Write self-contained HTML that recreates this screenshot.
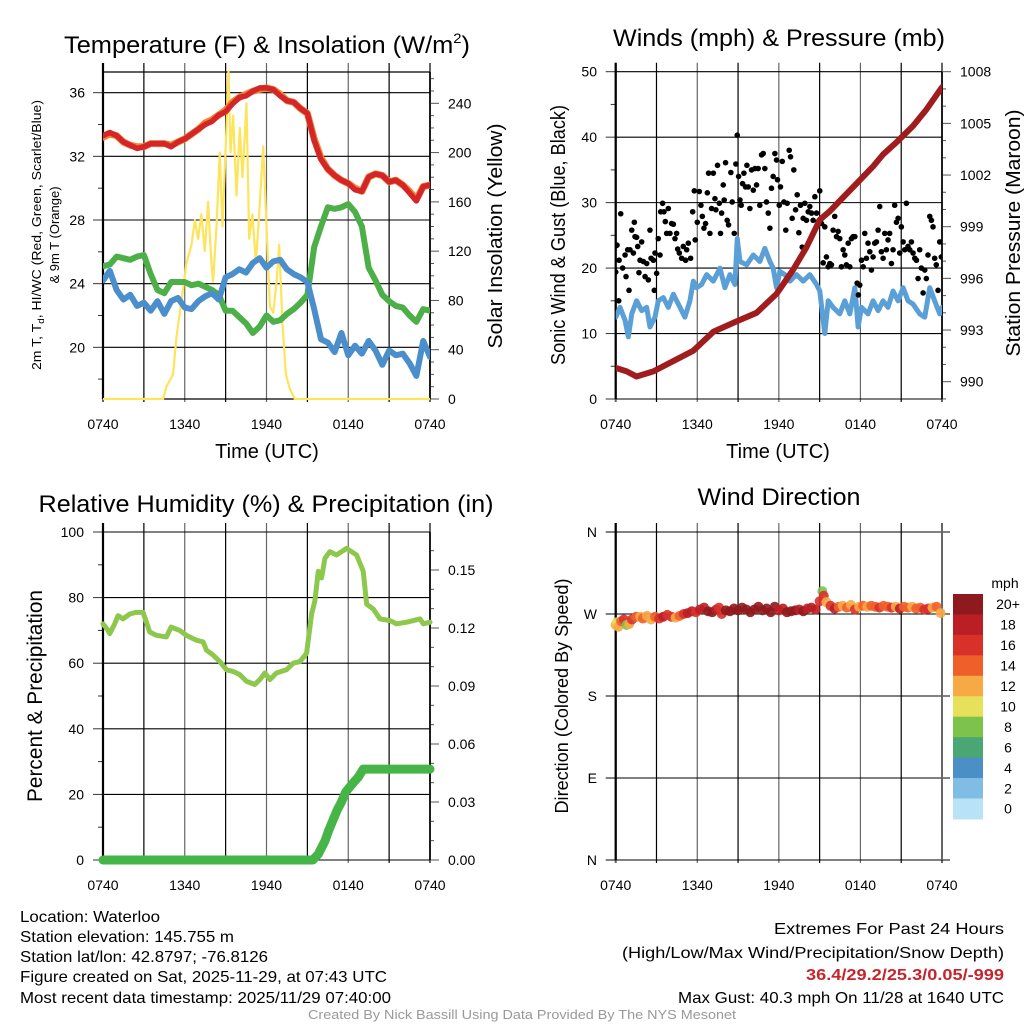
<!DOCTYPE html>
<html><head><meta charset="utf-8"><title>Waterloo Mesonet Meteogram</title>
<style>
html,body{margin:0;padding:0;background:#fff;}
svg{display:block;font-family:"Liberation Sans",Arial,sans-serif;}
</style></head>
<body>
<svg id="root" width="1024" height="1024" viewBox="0 0 1024 1024" xmlns="http://www.w3.org/2000/svg">
<rect x="0" y="0" width="1024" height="1024" fill="#fff"/>
<defs>
<clipPath id="c1"><rect x="103" y="64" width="327" height="336"/></clipPath>
<clipPath id="c2"><rect x="615.7" y="68" width="326.3" height="332"/></clipPath>
<clipPath id="c3"><rect x="95" y="526" width="342" height="342"/></clipPath>
<clipPath id="c4"><rect x="608" y="526" width="342" height="340"/></clipPath>
</defs>
<!-- titles -->
<text x="267" y="53" font-size="24" text-anchor="middle" textLength="406" lengthAdjust="spacingAndGlyphs">Temperature (F) &amp; Insolation (W/m<tspan font-size="14" dy="-10">2</tspan><tspan dy="10">)</tspan></text>
<text x="779" y="46" font-size="24" text-anchor="middle" textLength="332" lengthAdjust="spacingAndGlyphs">Winds (mph) &amp; Pressure (mb)</text>
<text x="266" y="512" font-size="24" text-anchor="middle" textLength="455" lengthAdjust="spacingAndGlyphs">Relative Humidity (%) &amp; Precipitation (in)</text>
<text x="779" y="505" font-size="24" text-anchor="middle" textLength="163" lengthAdjust="spacingAndGlyphs">Wind Direction</text>
<!-- axis titles -->
<text transform="translate(41,235) rotate(-90)" font-size="13" text-anchor="middle" textLength="270" lengthAdjust="spacingAndGlyphs">2m T, T<tspan font-size="9" dy="3">d</tspan><tspan dy="-3">, HI/WC (Red, Green, Scarlet/Blue)</tspan></text>
<text transform="translate(59,235) rotate(-90)" font-size="13" text-anchor="middle">&amp; 9m T (Orange)</text>
<text transform="translate(502,236) rotate(-90)" font-size="20" text-anchor="middle" textLength="225" lengthAdjust="spacingAndGlyphs">Solar Insolation (Yellow)</text>
<text x="267" y="458" font-size="20" text-anchor="middle">Time (UTC)</text>
<text transform="translate(565,235) rotate(-90)" font-size="20" text-anchor="middle" textLength="260" lengthAdjust="spacingAndGlyphs">Sonic Wind &amp; Gust (Blue, Black)</text>
<text transform="translate(1020,233) rotate(-90)" font-size="20" text-anchor="middle" textLength="247" lengthAdjust="spacingAndGlyphs">Station Pressure (Maroon)</text>
<text x="778" y="458" font-size="20" text-anchor="middle">Time (UTC)</text>
<text transform="translate(42,696) rotate(-90)" font-size="21" text-anchor="middle" textLength="212" lengthAdjust="spacingAndGlyphs">Percent &amp; Precipitation</text>
<text transform="translate(568,696) rotate(-90)" font-size="18" text-anchor="middle" textLength="235" lengthAdjust="spacingAndGlyphs">Direction (Colored By Speed)</text>
<!-- footer -->
<g font-size="16">
<text x="20" y="922" textLength="140" lengthAdjust="spacingAndGlyphs">Location: Waterloo</text>
<text x="20" y="942" textLength="214" lengthAdjust="spacingAndGlyphs">Station elevation: 145.755 m</text>
<text x="20" y="962" textLength="248" lengthAdjust="spacingAndGlyphs">Station lat/lon: 42.8797; -76.8126</text>
<text x="20" y="982" textLength="367" lengthAdjust="spacingAndGlyphs">Figure created on Sat, 2025-11-29, at 07:43 UTC</text>
<text x="20" y="1003" textLength="371" lengthAdjust="spacingAndGlyphs">Most recent data timestamp: 2025/11/29 07:40:00</text>
</g>
<g font-size="16" text-anchor="end">
<text x="1004" y="934" textLength="230" lengthAdjust="spacingAndGlyphs">Extremes For Past 24 Hours</text>
<text x="1004" y="958" textLength="382" lengthAdjust="spacingAndGlyphs">(High/Low/Max Wind/Precipitation/Snow Depth)</text>
<text x="1004" y="980" font-weight="bold" fill="#c8242b" textLength="198" lengthAdjust="spacingAndGlyphs">36.4/29.2/25.3/0.05/-999</text>
<text x="1004" y="1003" textLength="326" lengthAdjust="spacingAndGlyphs">Max Gust: 40.3 mph On 11/28 at 1640 UTC</text>
</g>
<text x="522" y="1019" font-size="12.5" fill="#999" text-anchor="middle" textLength="428" lengthAdjust="spacingAndGlyphs">Created By Nick Bassill Using Data Provided By The NYS Mesonet</text>
</svg>
<script>
// ---------- data ----------
const timeLabels = ["0740","1340","1940","0140","0740"];
const tempTicks = [20,24,28,32,36];
const insTicks = [0,40,80,120,160,200,240];
const windTicks = [0,10,20,30,40,50];
const presTicks = [990,993,996,999,1002,1005,1008];
const rhTicks = [0,20,40,60,80,100];
const precipTicks = [0.00,0.03,0.06,0.09,0.12,0.15];
const dirTicks = [0,90,180,270,360];
const dirLabels = ["N","E","S","W","N"];
const speedBinLabels = ["0","2","4","6","8","10","12","14","16","18","20+"];
const speedBinColors = ["#b8e3f7","#80bde5","#4a8fc6","#4aa673","#7dc24b","#e6e05a","#f7a944","#ef5f2a","#d8312a","#bb1e24","#8f1a1d"];

// half-hourly temperatures (index*0.5 h after 0740 UTC)
const tempAir = [33.3,33.5,33.3,32.9,32.7,32.5,32.6,32.8,32.8,32.8,32.6,32.9,33.1,33.4,33.7,34.0,34.2,34.6,34.8,35.3,35.7,35.8,36.1,36.3,36.3,36.2,35.8,35.5,35.4,35.0,34.7,33.0,31.8,31.2,30.8,30.5,30.3,29.9,29.8,30.7,30.9,30.8,30.4,30.5,30.2,29.7,29.2,30.1,30.2];
const temp9m = [33.2,33.4,33.3,32.9,32.7,32.6,32.6,32.8,32.8,32.8,32.7,32.9,33.1,33.4,33.7,34.1,34.3,34.6,34.9,35.4,35.7,35.9,36.1,36.2,36.3,36.2,35.9,35.5,35.4,35.0,34.7,33.1,31.9,31.2,30.8,30.5,30.3,30.0,29.8,30.7,30.9,30.8,30.4,30.5,30.2,29.8,29.3,30.1,30.2];
const dewpoint = [25.1,25.2,25.7,25.6,25.5,25.7,25.8,24.6,23.6,23.4,24.1,24.1,24.1,23.9,24.0,23.8,23.6,23.3,22.3,22.3,21.9,21.5,20.9,21.3,22.0,21.6,21.7,22.1,22.4,22.8,23.3,26.3,27.6,28.8,28.7,28.8,29.0,28.5,27.6,25.0,24.2,23.3,22.9,22.6,22.5,22.0,21.6,22.4,22.3];
const windChill = [24.2,24.8,23.6,23.0,23.3,22.6,22.8,22.3,22.9,22.1,22.9,23.1,22.5,22.4,22.9,23.2,23.4,23.0,24.4,24.6,24.9,24.7,25.3,25.6,25.0,25.4,25.5,24.9,24.6,24.4,24.1,22.4,20.5,20.3,19.7,20.9,19.5,20.1,19.6,20.4,19.8,18.9,19.8,19.5,19.6,19.0,18.2,20.4,19.4];

const insHours = [0,4.41,4.65,5.14,5.39,5.76,6.12,6.49,6.74,6.98,7.22,7.47,7.71,7.96,8.08,8.33,8.57,8.77,9.06,9.21,9.36,9.55,9.8,10.04,10.24,10.53,10.73,10.97,11.22,11.46,11.76,12.0,12.25,12.49,12.74,12.93,13.18,13.42,13.72,14.08,24];
const insVals = [0,0,10,20,50,80,110,125,145,130,150,120,160,110,95,140,200,140,220,266,200,230,165,220,180,240,130,150,110,150,205,140,75,70,95,125,60,20,8,0,0];

const windHours = [0,.32,.69,.93,1.18,1.54,1.91,2.28,2.52,2.89,3.13,3.5,3.87,4.24,4.73,5.09,5.46,5.71,5.95,6.32,6.69,7.18,7.67,8.03,8.4,8.77,8.94,9.14,9.63,10.12,10.6,10.97,11.34,11.58,11.83,12.07,12.44,12.81,13.3,13.79,14.28,14.77,15.01,15.38,15.63,15.99,16.48,16.85,17.22,17.59,17.83,18.08,18.56,18.93,19.3,19.67,20.03,20.4,20.77,21.14,21.5,21.87,22.36,22.73,23.1,23.46,23.83,24];
const windVals = [12.5,14,12,9.5,13,15,13.5,14,11,12.5,15,15.5,14,16,14,12.5,15,18,17,17.5,19,18,20,17,19,17.5,24.5,21,20.5,22,21,23,21,20,17,19.5,19,18,19,18,19,17.5,16.5,10,15,14,13,15,13,17,11,14,13,15,13.5,15,14,16.5,15,17,15,14.5,13,12.5,17,15,13,14];

const gustHours = [0,0.02,0.1,0.25,0.37,0.22,0.51,0.69,0.76,0.88,0.98,1.05,1.18,1.3,1.37,1.42,1.54,1.62,1.71,1.79,1.91,2.03,2.16,2.28,2.4,2.52,2.6,2.77,2.84,2.89,3.01,3.13,3.26,3.31,3.45,3.55,3.65,3.75,3.87,3.99,4.11,4.24,4.36,4.48,4.56,4.68,4.85,4.97,5.14,5.22,5.34,5.51,5.66,5.78,5.85,6.0,6.15,6.27,6.37,6.49,6.61,6.74,6.83,6.93,7.05,7.18,7.3,7.37,7.49,7.62,7.71,7.79,7.91,7.98,8.08,8.2,8.3,8.47,8.57,8.72,8.84,8.94,9.04,9.14,9.23,9.33,9.43,9.55,9.65,9.75,9.87,9.99,10.12,10.24,10.36,10.48,10.6,10.73,10.85,10.97,11.09,11.22,11.34,11.46,11.58,11.71,11.83,11.9,12.03,12.12,12.25,12.37,12.51,12.61,12.76,12.86,12.98,13.1,13.23,13.35,13.47,13.59,13.72,13.79,13.91,14.03,14.16,14.28,14.4,14.52,14.65,14.77,14.89,15.01,15.14,15.26,15.38,15.5,15.63,15.75,15.87,15.99,16.11,16.24,16.36,16.48,16.6,16.73,16.85,16.97,17.1,17.22,17.34,17.46,17.59,17.76,17.85,17.95,18.08,18.2,18.32,18.44,18.56,18.69,18.81,18.93,19.05,19.18,19.3,19.42,19.54,19.67,19.79,19.91,20.03,20.15,20.28,20.4,20.52,20.65,20.77,20.89,21.01,21.14,21.26,21.38,21.5,21.63,21.75,21.87,22.0,22.12,22.24,22.36,22.48,22.61,22.73,22.85,22.97,23.1,23.22,23.34,23.46,23.58,23.71,23.83,23.95];
const gustVals = [19.4,23.4,23.5,21.2,28.3,15,20,22,18.7,22.8,16.6,22.8,25.8,22.3,27,24.8,24.7,23.3,19.3,21.2,24,21,18.7,20.7,18.2,25.8,21.5,21.2,16.6,22.3,19.2,24.5,22,28.6,29.9,28.6,27.1,25.3,29.1,25.3,26.8,26.7,24.5,25.3,22.9,22.3,21.5,23.3,21.2,22.8,23.8,21.5,28.6,31.8,24.3,27,31.7,29.6,27.9,26.1,26.8,31.5,34.5,25.3,29.1,34.5,30.6,28.9,35.7,29.9,25.3,28.4,32.7,30.4,36.1,27.3,26.6,34.6,30.1,25.3,35.9,40.3,34,30.4,29.6,32.9,34.5,32.4,35.7,32.4,29.1,35,31.9,35.2,32.7,35.2,29.6,37.3,37.5,35.2,30.1,28.4,26.1,32.2,34,37.5,36.5,33.5,29.6,32.4,36.3,30.1,25.8,29.9,38,37,27.6,35,28.9,31.2,25.4,29.6,23.2,27.6,29.9,27.3,28.6,29.4,28.4,27.3,30.9,28.4,27.1,31.8,26.8,20.8,26.3,21.7,20.2,20.7,20.5,25.8,27.9,24.8,25.6,24.5,20.2,22.8,22,20.5,23.8,20.2,24.5,24.8,24.8,17.7,15.9,17.4,21.2,20.2,25.3,21.5,23.8,22.5,19.7,21.7,23.8,24,25.8,29.4,22.5,21.5,25.3,22.8,24.3,25.3,20.7,22.8,29.6,27,27.6,22.3,26.3,24,22.8,29.9,23.3,22.8,24,22.3,21.5,21.2,18.4,22.8,20,16.2,19.7,18.4,22,27.9,27.3,26.3,21.5,20.5,16.6,24,21.7];

const presHours = [0,.81,1.54,2.77,4.24,5.71,7.18,8.89,10.36,11.83,13.05,14.03,15.01,15.75,16.48,17.71,18.93,19.67,20.65,21.87,22.85,24];
const presVals = [990.8,990.6,990.3,990.6,991.2,991.8,992.9,993.5,994.0,995.1,996.5,997.8,999.4,999.9,1000.5,1001.5,1002.5,1003.2,1003.9,1004.85,1005.8,1007.1];

const rhHours = [0,0.37,0.49,0.86,1.1,1.47,1.96,2.45,2.94,3.43,3.92,4.65,5.0,5.63,6.12,6.86,7.35,7.59,8.08,8.57,9.06,9.55,10.04,10.53,11.14,11.51,11.88,12.25,12.73,13.47,13.96,14.45,14.94,15.31,15.55,15.8,16.04,16.29,16.65,17.14,17.88,18.61,19.1,19.35,19.84,20.33,21.06,21.55,22.29,23.27,23.51,24];
const rhVals = [72,70,69,72,74.5,73.5,75,75.5,75.5,69.5,68.5,68,71,70,68.5,67,66.5,64,62.5,60.5,58,57.5,56.5,54.5,53.5,55,57,55,57,58,60,60.5,63,75,79,88,86,92,94,93,95,93,88,78,76.5,73.5,73,72,72.5,73.5,72,72.5];

const precipHours = [0,15.4,15.8,16.3,16.55,16.9,17.2,17.5,17.8,18.25,18.75,19.1,24];
const precipVals = [0,0,0.003,0.01,0.015,0.021,0.026,0.03,0.035,0.039,0.043,0.047,0.047];

const dirHours = [0,0.1,0.2,0.4,0.6,0.8,1.0,1.2,1.5,1.8,2.0,2.3,2.6,2.9,3.2,3.5,3.8,4.1,4.4,4.7,5.0,5.3,5.6,5.9,6.2,6.5,6.8,7.1,7.4,7.6,7.8,8.1,8.4,8.7,9.0,9.3,9.6,9.9,10.2,10.5,10.8,11.1,11.4,11.7,12.0,12.3,12.6,12.9,13.2,13.5,13.8,14.1,14.4,14.7,15.0,15.2,15.3,15.5,15.8,16.1,16.4,16.7,17.0,17.3,17.6,17.9,18.2,18.5,18.8,19.1,19.4,19.7,20.0,20.3,20.6,20.9,21.2,21.5,21.8,22.1,22.4,22.7,23.0,23.3,23.6,23.9];
const dirDeg = [258,261,256,262,264,258,259,264,267,267,265,268,264,267,265,267,269,267,266,268,270,271,273,272,275,277,273,272,275,277,270,274,273,276,274,277,275,272,275,278,274,276,272,278,274,276,272,273,274,275,273,276,277,275,284,295,290,283,279,276,278,279,277,280,275,278,279,278,279,278,277,279,278,277,278,276,278,277,278,276,277,275,276,277,278,271];
const dirSpeed = [12,11,12,14,16,8,12,17,14,12,14,13,12,15,17,18,16,17,13,14,16,18,19,17,19,18,20,21,19,17,17,20,21,20,21,20,21,20,21,22,21,20,21,20,19,18,20,21,20,19,20,18,19,18,17,8,16,12,16,18,15,12,14,13,16,13,14,12,14,15,17,14,15,17,13,18,15,14,13,15,14,17,16,12,14,13];

// ---------- helpers ----------
const NS = "http://www.w3.org/2000/svg";
const root = document.getElementById('root');
function el(tag, attrs, parent) {
  const e = document.createElementNS(NS, tag);
  for (const k in attrs) e.setAttribute(k, attrs[k]);
  (parent || root).appendChild(e);
  return e;
}
function txt(parent, x, y, s, size, anchor) {
  const t = el('text', {x: x, y: y, 'font-size': size, 'text-anchor': anchor}, parent);
  t.textContent = s;
  return t;
}
function hx(x0, x1) { return h => x0 + h * (x1 - x0) / 24; }
function lin(d0, d1, r0, r1) { return v => r0 + (v - d0) * (r1 - r0) / (d1 - d0); }
function pathFrom(xs, ys, fx, fy) {
  let d = "";
  const n = Math.min(xs.length, ys.length);
  for (let i = 0; i < n; i++) d += (i ? "L" : "M") + fx(xs[i]).toFixed(2) + " " + fy(ys[i]).toFixed(2);
  return d;
}
const halfHours = tempAir.map((v, i) => i * 0.5);

function frame(g, x0, x1, y0, y1, fx) {
  // vertical grid every 3 h
  for (let h = 0; h <= 24; h += 3) {
    const X = fx(h);
    const ln = el('line', {x1: X, x2: X, y1: y0 - 9, y2: y1 + 3, stroke: (h % 6 === 3) ? '#000' : '#666', 'stroke-width': (h === 0 || h === 24) ? 2 : 1.2}, g);
    
    
  }
  for (let i = 0; i < timeLabels.length; i++) {
    const t = txt(g, fx(i * 6), y1 + 30, timeLabels[i], 14, 'middle');
    
    
  }
}
function hgrid(g, x0, x1, Y, label, side, lx) {
  const ln = el('line', {x1: x0 - 10, x2: x1 + (side ? 0 : 0), y1: Y, y2: Y, stroke: '#000', 'stroke-width': 1.1}, g);
  
  
}

// ---------- Panel 1: temperature ----------
(function () {
  const g = el('g', {}, root);
  
  
  const x0 = 103, x1 = 430, y0 = 72, y1 = 399;
  const fx = hx(x0, x1);
  const fy = lin(20, 36, 347.3, 92.7);
  const fi = lin(0, 240, 399, 103.3);
  frame(g, x0, x1, y0, y1, fx);
  el('line', {x1: x0, x2: x1, y1: y0, y2: y0, stroke: '#000', 'stroke-width': 1.2}, g);
  el('line', {x1: x0, x2: x1, y1: y1, y2: y1, stroke: '#000', 'stroke-width': 1.2}, g);
  for (let v = 18; v <= 36; v += 2) {
    const Y = fy(v);
    el('line', {x1: x0 - (v % 4 === 0 ? 10 : 5), x2: x0, y1: Y, y2: Y, stroke: '#333', 'stroke-width': 1}, g);
  }
  tempTicks.forEach(v => {
    const ln = el('line', {x1: x0, x2: x1, y1: fy(v), y2: fy(v), stroke: '#000', 'stroke-width': 1.1}, g);
    
    
    const t = txt(g, 85, fy(v) + 5, String(v), 14, 'end');
    
    
  });
  for (let v = 0; v <= 260; v += 10) {
    const Y = fi(v);
    if (Y < y0) continue;
    el('line', {x1: x1, x2: x1 + (v % 40 === 0 ? 9 : 4), y1: Y, y2: Y, stroke: '#555', 'stroke-width': 1}, g);
  }
  insTicks.forEach(v => {
    const t = txt(g, 448, fi(v) + 5, String(v), 14, 'start');
    
    
  });
  el('line', {x1: x0, x2: x0, y1: y0 - 9, y2: y1, stroke: '#000', 'stroke-width': 2.2}, g);
  el('line', {x1: x1, x2: x1, y1: y0, y2: y1, stroke: '#000', 'stroke-width': 1.4}, g);
  const c = el('g', {'clip-path': 'url(#c1)', 'stroke-linejoin': 'round', 'stroke-linecap': 'round', fill: 'none'}, g);
  const ins = el('path', {d: pathFrom(insHours, insVals, fx, fi), stroke: '#fde45a', 'stroke-width': 2.2}, c);
  
  
  const dp = el('path', {d: pathFrom(halfHours, dewpoint, fx, fy), stroke: '#4caf48', 'stroke-width': 6}, c);
  
  
  const wc = el('path', {d: pathFrom(halfHours, windChill, fx, fy), stroke: '#4a8fcb', 'stroke-width': 6}, c);
  
  
  const t9 = el('path', {d: pathFrom(halfHours, temp9m, fx, fy), stroke: '#f5832d', 'stroke-width': 7}, c);
  
  
  const ta = el('path', {d: pathFrom(halfHours, tempAir, fx, fy), stroke: '#d4262a', 'stroke-width': 5.5}, c);
  
  
})();

// ---------- Panel 2: winds & pressure ----------
(function () {
  const g = el('g', {}, root);
  
  
  const x0 = 615.7, x1 = 942, y0 = 71.7, y1 = 399;
  const fx = hx(x0, x1);
  const fw = lin(0, 50, 399, 71.7);
  const fp = lin(990, 1008, 381.7, 71.7);
  frame(g, x0, x1, y0, y1, fx);
  for (let v = 0; v <= 50; v += 5) {
    el('line', {x1: x0 - (v % 10 === 0 ? 10 : 5), x2: x0, y1: fw(v), y2: fw(v), stroke: '#333', 'stroke-width': 1}, g);
  }
  windTicks.forEach(v => {
    const ln = el('line', {x1: x0, x2: x1, y1: fw(v), y2: fw(v), stroke: '#000', 'stroke-width': 1.1}, g);
    
    
    const t = txt(g, 597, fw(v) + 5, String(v), 14, 'end');
    
    
  });
  for (let p = 989; p <= 1008; p += 1) {
    el('line', {x1: x1, x2: x1 + ((p % 3 === 0) ? 9 : 4), y1: fp(p), y2: fp(p), stroke: '#555', 'stroke-width': 1}, g);
  }
  presTicks.forEach(v => {
    const t = txt(g, 960, fp(v) + 5, String(v), 14, 'start');
    
    
  });
  el('line', {x1: x0, x2: x0, y1: y0 - 9, y2: y1, stroke: '#000', 'stroke-width': 2.2}, g);
  el('line', {x1: x1, x2: x1, y1: y0, y2: y1, stroke: '#000', 'stroke-width': 1.4}, g);
  const c = el('g', {'clip-path': 'url(#c2)', 'stroke-linejoin': 'round', 'stroke-linecap': 'round', fill: 'none'}, g);
  const wl = el('path', {d: pathFrom(windHours, windVals, fx, fw), stroke: '#5a9fd6', 'stroke-width': 5}, c);
  
  
  const n = Math.min(gustHours.length, gustVals.length);
  for (let i = 0; i < n; i++) {
    const d = el('circle', {cx: fx(gustHours[i]), cy: fw(gustVals[i]), r: 2.8, fill: '#000', stroke: 'none'}, c);
    
    
  }
  const pl = el('path', {d: pathFrom(presHours, presVals, fx, fp), stroke: '#a11c1d', 'stroke-width': 6}, c);
  
  
})();

// ---------- Panel 3: humidity & precip ----------
(function () {
  const g = el('g', {}, root);
  
  
  const x0 = 103, x1 = 430, y0 = 532, y1 = 860;
  const fx = hx(x0, x1);
  const fr = lin(0, 100, 860, 532);
  const fq = lin(0, 0.15, 860, 570);
  frame(g, x0, x1, y0, y1, fx);
  for (let v = 0; v <= 100; v += 10) {
    el('line', {x1: x0 - (v % 20 === 0 ? 10 : 5), x2: x0, y1: fr(v), y2: fr(v), stroke: '#333', 'stroke-width': 1}, g);
  }
  rhTicks.forEach(v => {
    const ln = el('line', {x1: x0, x2: x1, y1: fr(v), y2: fr(v), stroke: '#000', 'stroke-width': 1.1}, g);
    
    
    const t = txt(g, 84, fr(v) + 5, String(v), 14, 'end');
    
    
  });
  for (let v = 0; v <= 0.17; v += 0.01) {
    const Y = fq(v);
    if (Y < y0) continue;
    const major = Math.abs(v * 100 % 3) < 0.01 || Math.abs(v * 100 % 3 - 3) < 0.01;
    el('line', {x1: x1, x2: x1 + (major ? 9 : 4), y1: Y, y2: Y, stroke: '#555', 'stroke-width': 1}, g);
  }
  precipTicks.forEach(v => {
    const t = txt(g, 448, fq(v) + 5, v.toFixed(2), 14, 'start');
    
    
  });
  el('line', {x1: x0, x2: x0, y1: y0 - 9, y2: y1, stroke: '#000', 'stroke-width': 2.2}, g);
  el('line', {x1: x1, x2: x1, y1: y0, y2: y1, stroke: '#000', 'stroke-width': 1.4}, g);
  const c = el('g', {'clip-path': 'url(#c3)', 'stroke-linejoin': 'round', 'stroke-linecap': 'round', fill: 'none'}, g);
  const rl = el('path', {d: pathFrom(rhHours, rhVals, fx, fr), stroke: '#8dc84c', 'stroke-width': 5}, c);
  
  
  const ql = el('path', {d: pathFrom(precipHours, precipVals, fx, fq), stroke: '#46b548', 'stroke-width': 9}, c);
  
  
})();

// ---------- Panel 4: wind direction ----------
(function () {
  const g = el('g', {}, root);
  
  
  const x0 = 615.7, x1 = 942, y0 = 532, y1 = 860;
  const fx = hx(x0, x1);
  const fd = lin(0, 360, 860, 532);
  frame(g, x0, x1, y0, y1, fx);
  dirTicks.forEach((v, i) => {
    const ln = el('line', {x1: x0 - 10, x2: x1 + 8, y1: fd(v), y2: fd(v), stroke: '#000', 'stroke-width': 1.1}, g);
    
    
    const t = txt(g, 597, fd(v) + 5, dirLabels[i], 14, 'end');
    
    
  });
  el('line', {x1: x0, x2: x0, y1: y0 - 9, y2: y1, stroke: '#000', 'stroke-width': 2.2}, g);
  el('line', {x1: x1, x2: x1, y1: y0 - 9, y2: y1, stroke: '#666', 'stroke-width': 2}, g);
  const c = el('g', {'clip-path': 'url(#c4)'}, g);
  for (let i = 0; i < dirHours.length; i++) {
    const b = Math.min(10, Math.floor(dirSpeed[i] / 2));
    const d = el('circle', {cx: fx(dirHours[i]), cy: fd(dirDeg[i]), r: 5, fill: speedBinColors[b], 'fill-opacity': 0.9}, c);
    
    
  }
  // colorbar
  const cb = el('g', {}, g);
  
  
  const bx = 953, bw = 30, top = 594, bh = 20.45;
  const u = txt(cb, 1005, 588, 'mph', 14, 'middle');
  
  
  for (let i = 0; i < speedBinColors.length; i++) {
    const k = speedBinColors.length - 1 - i;
    const r = el('rect', {x: bx, y: top + i * bh, width: bw, height: bh + 0.5, fill: speedBinColors[k]}, cb);
    
    
    const t = txt(cb, 1008, top + i * bh + bh / 2 + 5, speedBinLabels[k], 14, 'middle');
    
    
  }
})();
</script>
</body></html>
